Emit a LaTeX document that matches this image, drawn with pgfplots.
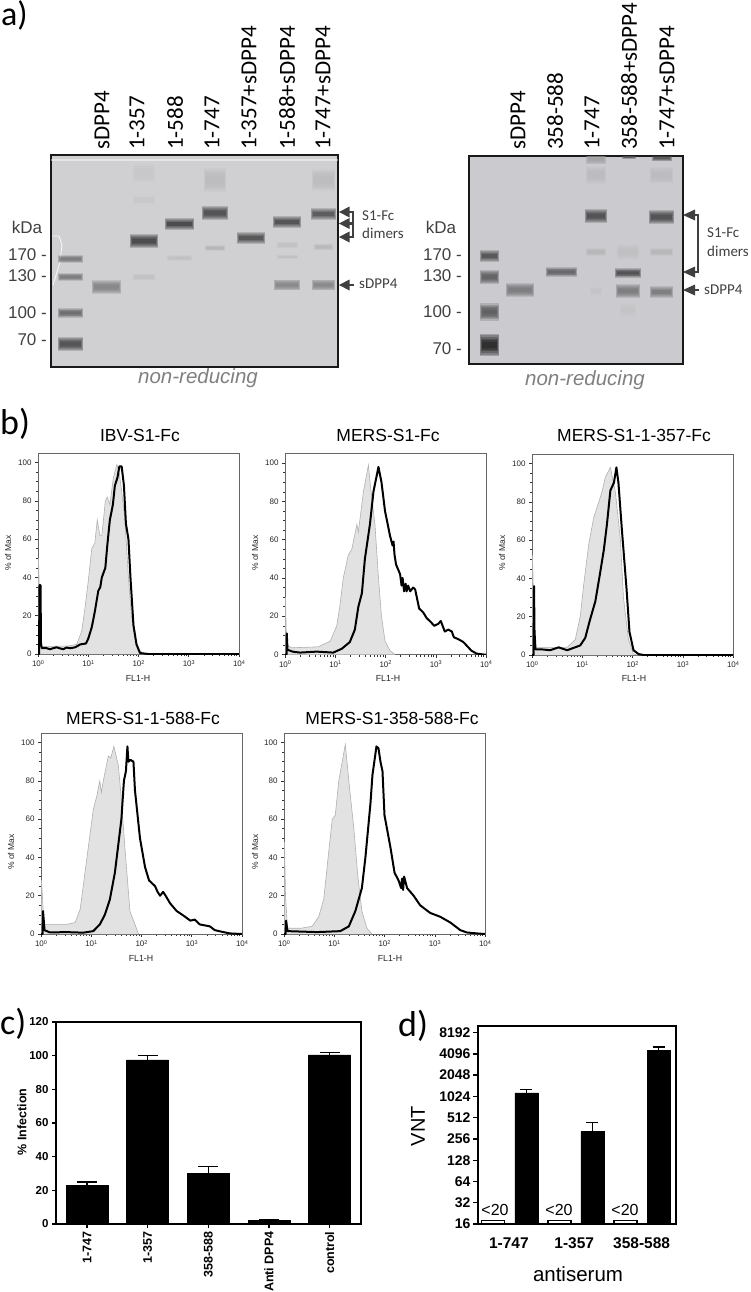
\documentclass[border=0pt]{standalone}
\usepackage{pgfplots}
\usepackage{pgfplotstable}
\pgfplotsset{compat=1.18}
\usepackage{fontspec}
\setmainfont{Liberation Sans}
\newfontfamily\calib{Carlito}
\newcommand{\fs}[1]{\fontsize{#1}{#1}\selectfont}
\definecolor{anno}{HTML}{404040}
\definecolor{gela}{HTML}{D0D0D3}
\definecolor{gelb}{HTML}{CBCBCF}
\definecolor{flowfill}{HTML}{E2E2E2}
\definecolor{flowedge}{HTML}{B0B0B0}

% flow cytometry histograms: log10(FL1-H)  % of Max
\pgfplotstableread{
x y
0.00 0
0.02 0
0.03 36
0.05 36
0.06 5
0.08 3
0.15 3.2
0.24 2.5
0.30 3
0.37 3.5
0.43 3
0.50 2.5
0.57 3.4
0.64 3
0.74 3.5
0.84 5
0.955 5.5
1.0 8
1.07 14
1.13 22
1.2 33
1.24 35
1.27 40
1.34 45
1.38 57
1.43 70
1.49 78
1.53 88
1.58 92
1.62 98
1.665 98
1.71 88
1.75 68
1.8 60
1.84 40
1.9 15
1.96 5
2.03 0.5
2.2 0
4 0
}\blackA
\pgfplotstableread{
x y
0.01 0
0.01 50
0.04 20
0.07 4
0.3 4
0.6 4.2
0.77 5
0.87 12
0.94 25
1.0 38
1.07 55
1.13 58
1.18 70
1.23 62
1.27 62
1.31 72
1.34 80
1.38 82
1.43 78
1.5 92
1.57 99
1.62 94
1.665 85
1.73 70
1.8 40
1.86 20
1.93 8
2.02 2
2.1 0
}\grayA
\pgfplotstableread{
x y
0.00 0
0.03 0
0.035 11
0.05 2.5
0.15 1.5
0.3 1
0.63 1.5
0.96 1
1.13 3
1.29 6.5
1.39 13
1.46 25
1.53 32
1.59 50
1.69 68
1.76 85
1.86 98
1.92 90
1.99 75
2.09 62
2.14 57
2.16 59
2.18 52
2.21 47
2.29 42
2.32 36
2.34 40
2.37 33
2.40 37
2.42 33
2.45 36
2.49 33
2.55 35
2.59 34
2.67 24
2.75 22
2.82 19
2.90 17
2.97 15
3.05 16
3.1 17.5
3.18 12
3.25 13
3.32 12
3.36 9
3.45 8
3.55 6.5
3.71 2
3.81 0.5
3.95 0
4 0
}\blackB
\pgfplotstableread{
x y
0.01 0
0.01 30
0.03 5
0.13 3.5
0.66 4
0.9 7
1.03 15
1.09 25
1.16 40
1.26 52
1.33 55
1.43 68
1.46 64
1.56 85
1.66 99
1.7 88
1.79 68
1.86 40
1.92 20
1.99 7
2.09 2
2.19 0
}\grayB
\pgfplotstableread{
x y
0.00 0
0.03 0
0.04 36
0.05 12
0.07 3
0.17 3
0.36 2.5
0.53 4
0.7 2.5
0.96 5
1.06 9
1.15 18
1.26 28
1.35 42
1.43 55
1.49 68
1.56 86
1.63 90
1.68 98
1.72 90
1.79 65
1.88 35
1.94 12
2.02 2.5
2.12 0.5
2.22 0
4 0
}\blackC
\pgfplotstableread{
x y
0.01 0
0.01 52
0.04 20
0.07 4
0.7 4
0.86 8
0.96 20
1.03 37
1.13 58
1.23 72
1.33 80
1.39 85
1.46 93
1.56 98
1.66 85
1.76 60
1.82 30
1.92 8
2.02 0.5
2.1 0
}\grayC
\pgfplotstableread{
x y
0.00 0
0.03 0
0.04 12
0.07 2
0.18 0.8
0.5 1
0.84 0.7
1.04 1.5
1.17 5
1.27 10
1.37 18
1.47 32
1.54 47
1.6 60
1.65 80
1.69 85
1.72 98
1.74 90
1.78 91
1.84 90
1.87 75
1.97 50
2.07 35
2.15 28
2.27 25
2.32 22
2.37 20
2.43 22
2.48 20
2.57 16
2.7 12
2.87 9
2.97 7
3.06 7.5
3.16 5
3.36 4
3.46 2
3.63 1
3.76 0.3
4 0
}\blackD
\pgfplotstableread{
x y
0.01 0
0.01 28
0.06 5
0.51 5
0.68 6
0.78 13
0.84 25
0.94 45
1.04 65
1.11 72
1.17 80
1.20 74
1.24 80
1.34 93
1.39 92
1.45 98
1.54 88
1.6 70
1.67 45
1.77 12
1.87 5
1.94 0
}\grayD
\pgfplotstableread{
x y
0.00 0
0.03 0
0.04 7
0.07 1.5
0.66 1
1.12 1.5
1.29 4
1.42 12
1.55 24
1.62 40
1.72 68
1.76 83
1.84 98
1.88 97
1.92 90
1.96 85
2.0 62
2.12 45
2.2 32
2.28 28
2.33 24
2.35 29
2.37 23
2.39 30
2.45 24
2.58 20
2.71 15
2.91 11
3.11 9
3.31 6
3.51 2
3.64 0.8
3.84 0.3
4 0
}\blackE
\pgfplotstableread{
x y
0.01 0
0.01 48
0.03 20
0.07 3
0.33 3
0.56 4
0.69 9
0.79 18
0.87 38
0.96 60
1.02 62
1.09 80
1.22 99
1.29 80
1.39 55
1.47 30
1.55 12
1.65 3
1.75 0
}\grayE

\newcommand{\dec}[1]{10\raisebox{.55ex}{\fs{5.5}#1}}
\pgfplotsset{
 flow/.style={
  scale only axis,width=201pt,height=201pt,
  xmin=0,xmax=4,ymin=0,ymax=105,
  axis line style={draw=black!60,line width=.7pt},
  tick align=outside,xtick pos=bottom,ytick pos=left,
  major tick length=3pt,minor tick length=2pt,
  tick style={black!80,line width=.5pt},
  xtick={0,1,2,3,4},xticklabels={\dec{0},\dec{1},\dec{2},\dec{3},\dec{4}},
  ytick={0,20,40,60,80,100},minor y tick num=3,
  minor xtick={0.301,0.477,0.602,0.699,0.778,0.845,0.903,0.954,1.301,1.477,1.602,1.699,1.778,1.845,1.903,1.954,2.301,2.477,2.602,2.699,2.778,2.845,2.903,2.954,3.301,3.477,3.602,3.699,3.778,3.845,3.903,3.954},
  tick label style={font=\fs{8},text=black!85},
  /pgf/number format/assume math mode=true,
  xticklabel shift=0pt,yticklabel shift=0pt,
 },
 gel/.style={
  scale only axis,ticks=none,y dir=reverse,clip=true,
  axis line style={draw=black!90,line width=1.6pt},
 },
}
% soft gel band: x1 x2 y height strength
\newcommand{\band}[5]{%
 \addplot[forget plot,no marks,draw=black!#5!gela,opacity=.22,line width=#4*1.35pt] coordinates {(#1,#3)(#2,#3)};
 \addplot[forget plot,no marks,draw=black!#5!gela,opacity=.22,line width=#4*1.15pt,shorten >=.4pt,shorten <=.4pt] coordinates {(#1,#3)(#2,#3)};
 \addplot[forget plot,no marks,draw=black!#5!gela,opacity=.25,line width=#4*.95pt,shorten >=.8pt,shorten <=.8pt] coordinates {(#1,#3)(#2,#3)};
 \addplot[forget plot,no marks,draw=black!#5!gela,opacity=.25,line width=#4*.75pt,shorten >=1.2pt,shorten <=1.2pt] coordinates {(#1,#3)(#2,#3)};
 \addplot[forget plot,no marks,draw=black!#5!gela,opacity=.3,line width=#4*.55pt,shorten >=1.6pt,shorten <=1.6pt] coordinates {(#1,#3)(#2,#3)};
 \addplot[forget plot,no marks,draw=black!#5!gela,opacity=.3,line width=#4*.35pt,shorten >=2pt,shorten <=2pt] coordinates {(#1,#3)(#2,#3)};
}
\newcommand{\flowpanel}[4]{%
 \begin{axis}[flow,at={(#1pt,-#2pt)},anchor=south west]
  \addplot[no marks,fill=flowfill,draw=flowedge,line width=.6pt] table {#3};
  \addplot[no marks,draw=black,line width=2pt,line join=round] table {#4};
 \end{axis}%
}
\begin{document}
\begin{tikzpicture}
\useasboundingbox (0pt,0pt) rectangle (750pt,-1292pt);

% ---- gel a, left
\begin{axis}[gel,at={(51pt,-367pt)},anchor=south west,width=287pt,height=212pt,
  xmin=51,xmax=338,ymin=155,ymax=367,axis background/.style={fill=gela}]
 \addplot[forget plot,no marks,draw=white,opacity=.45,line width=2pt] coordinates {(51,160)(338,160)};
 \addplot[forget plot,no marks,draw=white,opacity=.8,line width=.9pt] coordinates {(52,236)(59,236)(62,245)(60,262)(53,285)};
 \band{58}{83}{259}{6}{45}
 \band{58}{83}{277}{6}{45}
 \band{58}{83}{313}{7}{55}
 \band{58}{83}{344}{11}{70}
 \band{92}{121}{287}{10}{40}
 \band{130}{158}{241}{11}{75}
 \band{133}{155}{173}{14}{4}
 \band{133}{155}{200}{6}{4}
 \band{133}{155}{277}{5}{7}
 \band{165}{194}{224}{9}{75}
 \band{167}{192}{258}{4}{8}
 \band{202}{228}{213}{10}{70}
 \band{204}{226}{180}{18}{10}
 \band{205}{225}{248}{4}{14}
 \band{237}{265}{238}{9}{68}
 \band{273}{301}{222}{9}{70}
 \band{274}{300}{285}{8}{40}
 \band{277}{298}{245}{5}{7}
 \band{277}{298}{257}{3}{8}
 \band{311}{336}{214}{9}{65}
 \band{312}{335}{285}{8}{40}
 \band{312}{335}{180}{16}{10}
 \band{314}{333}{247}{5}{12}
\end{axis}

% ---- gel a, right
\begin{axis}[gel,at={(469pt,-364pt)},anchor=south west,width=214pt,height=208pt,
  xmin=469,xmax=683,ymin=156,ymax=364,axis background/.style={fill=gelb}]
 \band{480}{499}{256}{9}{68}
 \band{480}{499}{277}{10}{60}
 \band{480}{499}{312}{13}{62}
 \band{480}{499}{345}{17}{92}
 \band{506}{534}{290}{11}{45}
 \band{546}{577}{272}{7}{58}
 \band{585}{607}{216}{11}{70}
 \band{586}{606}{252}{6}{13}
 \band{586}{606}{175}{13}{10}
 \band{586}{606}{159}{8}{24}
 \band{590}{602}{291}{6}{6}
 \band{615}{641}{273}{7}{70}
 \band{616}{640}{291}{10}{45}
 \band{617}{639}{252}{10}{8}
 \band{620}{636}{310}{9}{6}
 \band{622}{636}{157}{3}{60}
 \band{649}{674}{217}{11}{70}
 \band{650}{673}{292}{9}{45}
 \band{650}{673}{252}{6}{13}
 \band{650}{673}{175}{12}{10}
 \band{652}{672}{158}{5}{65}
\end{axis}

% ---- b, flow cytometry
\flowpanel{38}{654}{\grayA}{\blackA}
\flowpanel{285}{654.5}{\grayB}{\blackB}
\flowpanel{532}{655}{\grayC}{\blackC}
\flowpanel{41}{934}{\grayD}{\blackD}
\flowpanel{284}{934}{\grayE}{\blackE}

% ---- c
\begin{axis}[scale only axis,at={(56pt,-1224pt)},anchor=south west,width=305pt,height=202pt,
  xmin=0.489,xmax=5.516,ymin=0,ymax=120,
  ybar,bar width=42pt,bar shift=0pt,axis line style={line width=1.4pt},
  tick align=outside,xtick pos=bottom,ytick pos=left,major tick length=4pt,
  tick style={line width=1.2pt,black},
  xtick={1,2,3,4,5},xticklabels={1-747,1-357,358-588,Anti DPP4,control},
  ytick={0,20,40,60,80,100,120},
  x tick label style={rotate=90,anchor=east,font=\bfseries\fs{12.5}},
  y tick label style={font=\bfseries\fs{11.5}},
  /pgf/number format/assume math mode=true]
 \addplot[fill=black,draw=black,
  error bars/.cd,y dir=plus,y explicit,
  error bar style={line width=1.2pt,black},
  error mark options={rotate=90,mark size=10pt,line width=1.2pt,black}]
  coordinates {(1,23) +- (0,2) (2,97.5) +- (0,2.8) (3,30) +- (0,4) (4,2) +- (0,.4) (5,100.5) +- (0,1.6)};
\end{axis}

% ---- d
\begin{axis}[scale only axis,at={(478pt,-1224pt)},anchor=south west,width=198pt,height=198pt,
  xmin=0.536,xmax=6.53,ymode=log,log basis y=2,ymin=16,ymax=10157,
  axis line style={line width=1.5pt},
  tick align=outside,xtick pos=bottom,ytick pos=left,major tick length=5pt,
  ytick={16,32,64,128,256,512,1024,2048,4096,8192},
  yticklabels={16,32,64,128,256,512,1024,2048,4096,8192},
  y tick label style={font=\bfseries\fs{14}},yticklabel shift=-1pt,
  xtick={1.47,3.45,5.49},xticklabels={1-747,1-357,358-588},
  x tick label style={font=\bfseries\fs{15.5},yshift=-5pt},
  x tick style={draw=none},y tick style={line width=1.3pt,black},
  log origin y=infty,minor tick length=0pt,
  /pgf/number format/assume math mode=true]
 \addplot[ybar,bar width=23pt,bar shift=0pt,fill=white,draw=black,line width=1.3pt]
  coordinates {(1,18) (3,18) (5,18)};
 \addplot[ybar,bar width=23pt,bar shift=0pt,fill=black,draw=black,
  error bars/.cd,y dir=plus,y explicit,
  error bar style={line width=1.2pt,black},
  error mark options={rotate=90,mark size=6pt,line width=1.2pt,black}]
  coordinates {(2,1146) +- (0,144) (4,329) +- (0,106) (6,4608) +- (0,525)};
\end{axis}

% ---- annotations
\begin{scope}[x=1pt,y=-1pt]
 \node[anchor=base west,inner sep=0pt,font=\calib\fs{34}] at (1,26) {a)};
 \node[anchor=base west,inner sep=0pt,font=\calib\fs{36}] at (0,434) {b)};
 \node[anchor=base west,inner sep=0pt,font=\calib\fs{36}] at (0,1034) {c)};
 \node[anchor=base west,inner sep=0pt,font=\calib\fs{36}] at (398,1036) {d)};
 % lane labels
 \foreach \x/\t in {102/sDPP4,137/1-357,175/1-588,212/1-747,249/1-357+sDPP4,287/1-588+sDPP4,323/1-747+sDPP4,518/sDPP4,555/358-588,592/1-747,629/358-588+sDPP4,667/1-747+sDPP4}
  \node[rotate=90,anchor=west,inner sep=0pt,font=\calib\fs{23}] at (\x,150) {\t};
 % kDa
 \node[font=\fs{17},text=anno] at (27,227) {kDa};
 \node[font=\fs{17},text=anno] at (441,227) {kDa};
 \foreach \y/\t in {255/170,276/130,313/100,340/70}
  \node[anchor=east,inner sep=0pt,font=\fs{17},text=anno] at (47,\y) {\t\ -};
 \foreach \y/\t in {255/170,276/130,312/100,349/70}
  \node[anchor=east,inner sep=0pt,font=\fs{17},text=anno] at (462,\y) {\t\ -};
 % non-reducing
 \node[font=\itshape\fs{20.5},text=black!50] at (198,378) {non-reducing};
 \node[font=\itshape\fs{20.5},text=black!50] at (585,380) {non-reducing};
 % arrows left
 \foreach \y in {212,223.5,237}
  \fill[anno] (339,\y) -- (349.5,\y-5.5) -- (349.5,\y+5.5) -- cycle;
 \draw[anno,line width=1.2pt] (349,212) -- (353,212) -- (353,223) -- (349,223);
 \draw[anno,line width=1.2pt] (349,224.5) -- (353,224.5) -- (353,237) -- (349,237);
 \fill[anno] (339,285) -- (349.5,279.5) -- (349.5,290.5) -- cycle;
 \draw[anno,line width=1.2pt] (349,285) -- (354,285);
 \node[anchor=west,inner sep=0pt,font=\calib\fs{15},text=anno] at (362,216) {S1-Fc};
 \node[anchor=west,inner sep=0pt,font=\calib\fs{15},text=anno] at (362,233) {dimers};
 \node[anchor=west,inner sep=0pt,font=\calib\fs{15},text=anno] at (359,284) {sDPP4};
 % arrows right
 \foreach \y in {215,272,290}
  \fill[anno] (683,\y) -- (695,\y-5.5) -- (695,\y+5.5) -- cycle;
 \draw[anno,line width=1.4pt] (694,215) -- (698,215) -- (698,272) -- (694,272);
 \draw[anno,line width=1.2pt] (694,290) -- (699,290);
 \node[anchor=west,inner sep=0pt,font=\calib\fs{15},text=anno] at (707,233) {S1-Fc};
 \node[anchor=west,inner sep=0pt,font=\calib\fs{15},text=anno] at (707,251) {dimers};
 \node[anchor=west,inner sep=0pt,font=\calib\fs{15},text=anno] at (704,290) {sDPP4};
 % flow titles and labels
 \foreach \x/\y/\t in {140/435/IBV-S1-Fc,388/435/MERS-S1-Fc,634/435/MERS-S1-1-357-Fc,143/718/MERS-S1-1-588-Fc,392/718/MERS-S1-358-588-Fc}
  \node[font=\fs{17.5}] at (\x,\y) {\t};
 \foreach \x/\y in {138/678,388/678,634/678,141/958,390/958}
  \node[font=\fs{8.8},text=black!85] at (\x,\y) {FL1-H};
 \foreach \x/\y in {8/553,255/553,502/553,11/852,255/852}
  \node[rotate=90,font=\fs{8.5},text=black!85] at (\x,\y) {\% of Max};
 % c,d labels
 \node[rotate=90,font=\bfseries\fs{12.5}] at (22,1122) {\% Infection};
 \node[rotate=90,font=\fs{20}] at (418,1126) {VNT};
 \node[font=\fs{20.5}] at (578,1274) {antiserum};
 \foreach \x in {495,559,625}
  \node[font=\fs{16}] at (\x,1210) {<20};
\end{scope}
\end{tikzpicture}
\end{document}
